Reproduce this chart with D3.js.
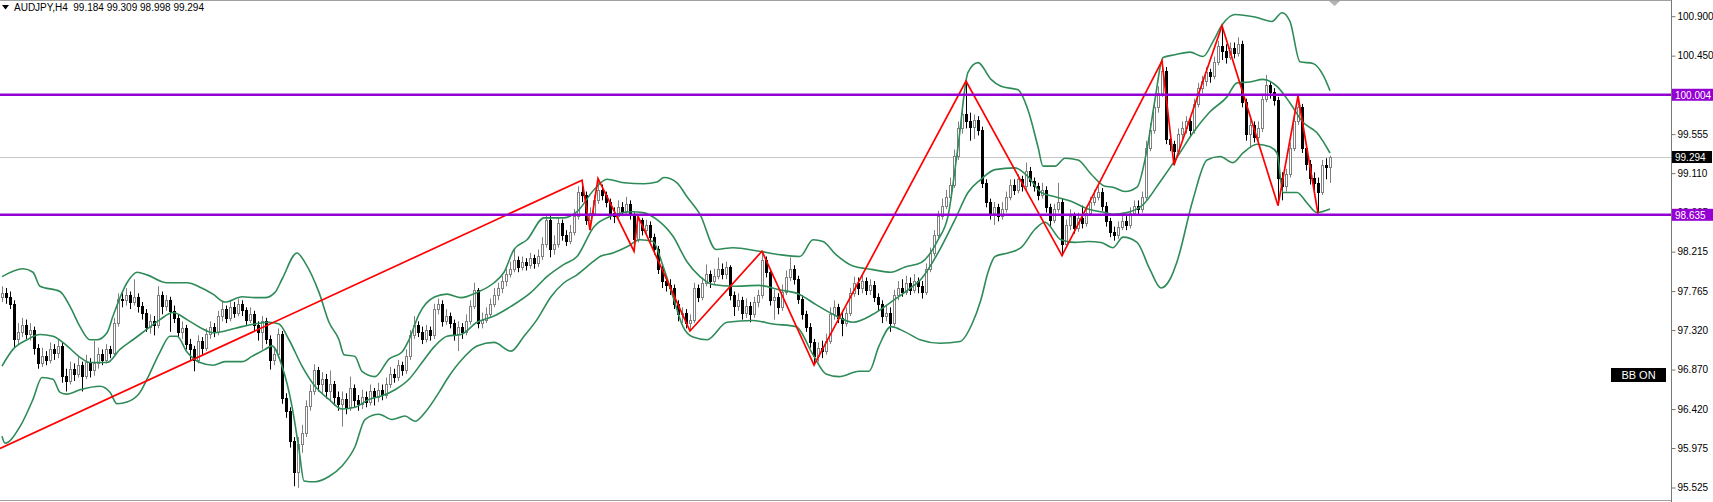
<!DOCTYPE html>
<html><head><meta charset="utf-8">
<script src="https://cdn.jsdelivr.net/npm/d3@7"></script>
<style>
html,body{margin:0;padding:0;background:#fff;overflow:hidden;}
svg{display:block;font-family:"Liberation Sans",Arial,sans-serif;}
</style></head><body>
<svg id="c" width="1713" height="502"></svg>
<script>
// ---------------- DATA (AUDJPY, H4) ----------------
const symbolTitle = "AUDJPY,H4  99.184 99.309 98.998 99.294";
const opens = [
97.70,97.74,97.70,97.62,97.22,97.30,97.38,97.28,97.32,97.12,
96.95,97.02,96.98,97.10,97.06,97.14,96.80,96.74,96.88,96.82,
96.92,96.80,96.96,96.86,96.94,97.05,96.98,97.10,97.06,97.40,
97.68,97.66,97.72,97.64,97.70,97.60,97.52,97.36,97.42,97.38,
97.72,97.60,97.66,97.54,97.46,97.30,97.34,97.16,97.10,96.98,
97.20,97.12,97.28,97.36,97.30,97.48,97.56,97.46,97.58,97.52,
97.62,97.55,97.44,97.50,97.38,97.30,97.42,97.22,96.98,97.05,
97.28,96.55,96.40,96.06,95.70,96.02,96.15,96.45,96.62,96.86,
96.70,96.76,96.62,96.70,96.56,96.48,96.54,96.44,96.66,96.52,
96.48,96.56,96.50,96.62,96.56,96.64,96.58,96.70,96.82,96.78,
96.92,96.86,97.02,97.26,97.38,97.30,97.22,97.32,97.26,97.56,
97.62,97.42,97.48,97.40,97.28,97.36,97.30,97.42,97.60,97.78,
97.40,97.44,97.50,97.62,97.72,97.80,97.88,97.96,98.02,98.12,
98.04,98.10,98.06,98.14,98.08,98.16,98.30,98.58,98.24,98.30,
98.54,98.40,98.34,98.44,98.62,98.90,98.86,98.58,98.66,98.80,
98.92,98.86,98.78,98.66,98.62,98.72,98.68,98.76,98.64,98.36,
98.58,98.46,98.52,98.38,98.24,98.02,97.88,97.84,97.80,97.62,
97.50,97.52,97.40,97.44,97.80,97.70,97.86,97.96,97.88,97.94,
98.02,97.96,98.04,97.72,97.60,97.66,97.52,97.60,97.50,97.64,
97.72,98.12,97.98,97.66,97.70,97.58,97.76,97.92,98.02,97.90,
97.68,97.50,97.36,97.18,97.02,97.12,97.08,97.20,97.50,97.58,
97.46,97.40,97.52,97.74,97.86,97.80,97.88,97.78,97.84,97.70,
97.62,97.48,97.52,97.40,97.72,97.80,97.76,97.86,97.78,97.88,
97.82,97.76,98.02,98.20,98.40,98.62,98.74,98.84,98.98,99.30,
99.62,99.78,99.70,99.64,99.72,99.60,99.00,98.78,98.66,98.72,
98.62,98.70,98.84,98.98,98.92,99.04,98.96,99.14,99.02,98.96,
98.86,98.92,98.72,98.58,98.70,98.78,98.30,98.52,98.62,98.48,
98.60,98.54,98.66,98.78,98.84,98.90,98.74,98.56,98.44,98.40,
98.50,98.56,98.52,98.66,98.74,98.70,98.84,99.40,99.60,99.86,
100.02,100.28,99.50,99.44,99.36,99.56,99.62,99.70,99.60,99.90,
100.08,100.16,100.26,100.22,100.38,100.56,100.50,100.44,100.54,100.48,
100.58,99.92,99.56,99.66,99.52,99.62,99.96,100.12,100.04,99.94,
99.06,98.96,99.10,99.40,99.70,99.86,99.40,99.22,99.06,99.00,
98.90,99.20,99.184];
const highs = [
97.82,97.80,97.76,97.66,97.40,97.46,97.44,97.40,97.36,97.16,
97.12,97.08,97.18,97.16,97.22,97.18,96.88,96.96,96.94,97.02,
96.96,97.04,97.00,97.20,97.12,97.10,97.16,97.14,97.46,97.74,
97.76,97.80,97.76,97.90,97.74,97.64,97.56,97.50,97.48,97.82,
97.76,97.72,97.70,97.60,97.50,97.42,97.38,97.22,97.14,97.26,
97.24,97.34,97.42,97.40,97.54,97.64,97.60,97.66,97.64,97.68,
97.66,97.58,97.58,97.54,97.42,97.48,97.46,97.26,97.12,97.34,
97.31,96.60,96.44,96.10,96.10,96.24,96.52,96.70,96.93,96.90,
96.84,96.82,96.86,96.74,96.62,96.62,96.60,96.79,96.70,96.58,
96.64,96.62,96.70,96.66,96.72,96.70,96.78,96.90,96.88,96.98,
96.96,97.10,97.32,97.48,97.42,97.36,97.38,97.36,97.62,97.68,
97.66,97.56,97.52,97.44,97.42,97.40,97.50,97.66,97.86,97.80,
97.52,97.58,97.68,97.80,97.86,97.94,98.02,98.10,98.24,98.16,
98.16,98.14,98.20,98.18,98.24,98.38,98.64,98.62,98.40,98.60,
98.58,98.46,98.52,98.70,98.96,99.03,98.90,98.72,98.86,99.05,
98.98,98.90,98.82,98.72,98.80,98.78,98.84,98.80,98.66,98.62,
98.60,98.58,98.56,98.42,98.28,98.06,97.94,97.90,97.84,97.66,
97.58,97.56,97.50,97.86,97.84,97.92,98.07,98.00,98.02,98.15,
98.08,98.10,98.06,97.76,97.74,97.70,97.68,97.64,97.70,97.78,
98.22,98.16,98.00,97.78,97.74,97.84,98.00,98.15,98.06,97.94,
97.72,97.54,97.40,97.22,97.18,97.20,97.28,97.58,97.66,97.62,
97.52,97.58,97.80,97.93,97.92,97.95,97.92,97.90,97.88,97.74,
97.66,97.60,97.58,97.78,97.88,97.90,97.94,97.92,97.96,97.92,
97.88,98.08,98.26,98.46,98.68,98.82,98.92,99.06,99.38,99.70,
99.86,100.16,99.80,99.78,99.76,99.64,99.04,98.82,98.78,98.76,
98.78,98.90,99.04,99.04,99.10,99.08,99.23,99.18,99.06,99.00,
99.00,98.96,98.76,98.76,99.00,98.82,98.58,98.70,98.66,98.66,
98.74,98.72,98.84,98.92,98.96,98.94,98.78,98.60,98.50,98.56,
98.66,98.62,98.72,98.80,98.80,98.90,99.48,99.68,99.94,100.10,
100.39,100.32,99.56,99.48,99.62,99.70,99.76,99.74,99.96,100.14,
100.22,100.32,100.30,100.44,100.62,100.79,100.58,100.60,100.60,100.66,
100.62,99.96,99.74,99.70,99.70,100.02,100.23,100.16,100.08,99.98,
99.12,99.16,99.46,99.78,99.99,99.90,99.44,99.26,99.12,99.06,
99.26,99.28,99.309];
const lows = [
97.64,97.62,97.56,97.12,97.16,97.24,97.22,97.20,97.04,96.88,
96.90,96.92,96.94,96.98,97.00,96.72,96.62,96.70,96.74,96.78,
96.62,96.76,96.78,96.80,96.88,96.92,96.94,97.00,97.02,97.36,
97.58,97.60,97.56,97.60,97.52,97.44,97.30,97.28,97.26,97.34,
97.50,97.54,97.30,97.40,97.24,97.22,97.10,96.98,96.85,96.94,
97.04,97.08,97.22,97.24,97.26,97.42,97.40,97.42,97.46,97.48,
97.48,97.38,97.40,97.30,97.20,97.10,97.16,96.87,96.92,97.00,
96.48,96.32,95.98,95.54,95.52,95.92,96.10,96.40,96.58,96.62,
96.60,96.54,96.50,96.46,96.40,96.22,96.36,96.40,96.44,96.40,
96.42,96.44,96.46,96.46,96.50,96.52,96.54,96.66,96.72,96.74,
96.80,96.82,96.98,97.22,97.24,97.16,97.18,97.20,97.22,97.50,
97.36,97.38,97.34,97.20,97.08,97.22,97.26,97.38,97.56,97.34,
97.34,97.40,97.46,97.58,97.66,97.74,97.82,97.92,97.98,97.98,
98.00,98.00,98.02,98.02,98.04,98.12,98.26,98.15,98.18,98.26,
98.34,98.28,98.30,98.40,98.58,98.78,98.52,98.46,98.62,98.76,
98.80,98.72,98.58,98.54,98.58,98.62,98.64,98.58,98.22,98.32,
98.40,98.40,98.32,98.18,97.96,97.80,97.76,97.72,97.56,97.42,
97.40,97.34,97.31,97.40,97.64,97.66,97.82,97.80,97.84,97.90,
97.90,97.90,97.66,97.48,97.54,97.44,97.46,97.41,97.46,97.58,
97.68,97.92,97.60,97.44,97.50,97.54,97.72,97.88,97.84,97.62,
97.44,97.30,97.12,96.92,96.96,97.00,97.04,97.16,97.44,97.40,
97.25,97.36,97.48,97.70,97.72,97.74,97.72,97.72,97.64,97.54,
97.40,97.42,97.30,97.36,97.66,97.70,97.72,97.72,97.74,97.74,
97.68,97.72,97.98,98.16,98.36,98.58,98.70,98.78,98.94,99.26,
99.56,99.62,99.48,99.50,99.54,98.94,98.72,98.58,98.52,98.56,
98.58,98.66,98.80,98.86,98.88,98.90,98.92,98.96,98.90,98.80,
98.82,98.66,98.50,98.54,98.66,98.17,98.26,98.46,98.42,98.44,
98.48,98.50,98.62,98.74,98.80,98.68,98.50,98.38,98.34,98.36,
98.46,98.46,98.48,98.62,98.64,98.66,98.80,99.36,99.56,99.80,
99.98,99.44,99.36,99.20,99.32,99.50,99.56,99.52,99.56,99.86,
100.02,100.10,100.14,100.18,100.34,100.40,100.36,100.40,100.42,100.44,
99.86,99.48,99.40,99.46,99.48,99.58,99.92,99.96,99.88,98.74,
98.80,98.90,99.06,99.36,99.66,99.34,99.14,98.98,98.88,98.65,
98.86,99.04,98.998];
const closes = [
97.74,97.70,97.62,97.22,97.30,97.38,97.28,97.32,97.12,96.95,
97.02,96.98,97.10,97.06,97.14,96.80,96.74,96.88,96.82,96.92,
96.80,96.96,96.86,96.94,97.05,96.98,97.10,97.06,97.40,97.68,
97.66,97.72,97.64,97.70,97.60,97.52,97.36,97.42,97.38,97.72,
97.60,97.66,97.54,97.46,97.30,97.34,97.16,97.10,96.98,97.20,
97.12,97.28,97.36,97.30,97.48,97.56,97.46,97.58,97.52,97.62,
97.55,97.44,97.50,97.38,97.30,97.42,97.22,96.98,97.05,97.28,
96.55,96.40,96.06,95.70,96.02,96.15,96.45,96.62,96.86,96.70,
96.76,96.62,96.70,96.56,96.48,96.54,96.44,96.66,96.52,96.48,
96.56,96.50,96.62,96.56,96.64,96.58,96.70,96.82,96.78,96.92,
96.86,97.02,97.26,97.38,97.30,97.22,97.32,97.26,97.56,97.62,
97.42,97.48,97.40,97.28,97.36,97.30,97.42,97.60,97.78,97.40,
97.44,97.50,97.62,97.72,97.80,97.88,97.96,98.02,98.12,98.04,
98.10,98.06,98.14,98.08,98.16,98.30,98.58,98.24,98.30,98.54,
98.40,98.34,98.44,98.62,98.90,98.86,98.58,98.66,98.80,98.92,
98.86,98.78,98.66,98.62,98.72,98.68,98.76,98.64,98.36,98.58,
98.46,98.52,98.38,98.24,98.02,97.88,97.84,97.80,97.62,97.50,
97.52,97.40,97.44,97.80,97.70,97.86,97.96,97.88,97.94,98.02,
97.96,98.04,97.72,97.60,97.66,97.52,97.60,97.50,97.64,97.72,
98.12,97.98,97.66,97.70,97.58,97.76,97.92,98.02,97.90,97.68,
97.50,97.36,97.18,97.02,97.12,97.08,97.20,97.50,97.58,97.46,
97.40,97.52,97.74,97.86,97.80,97.88,97.78,97.84,97.70,97.62,
97.48,97.52,97.40,97.72,97.80,97.76,97.86,97.78,97.88,97.82,
97.76,98.02,98.20,98.40,98.62,98.74,98.84,98.98,99.30,99.62,
99.78,99.70,99.64,99.72,99.60,99.00,98.78,98.66,98.72,98.62,
98.70,98.84,98.98,98.92,99.04,98.96,99.14,99.02,98.96,98.86,
98.92,98.72,98.58,98.70,98.78,98.30,98.52,98.62,98.48,98.60,
98.54,98.66,98.78,98.84,98.90,98.74,98.56,98.44,98.40,98.50,
98.56,98.52,98.66,98.74,98.70,98.84,99.40,99.60,99.86,100.02,
100.28,99.50,99.44,99.36,99.56,99.62,99.70,99.60,99.90,100.08,
100.16,100.26,100.22,100.38,100.56,100.50,100.44,100.54,100.48,100.58,
99.92,99.56,99.66,99.52,99.62,99.96,100.12,100.04,99.94,99.06,
98.96,99.10,99.40,99.70,99.86,99.40,99.22,99.06,99.00,98.90,
99.20,99.18,99.294];

// Bollinger Bands: [bar index, price]
const bbUpper = [[0,97.93],[5.25,98.02],[7.75,97.98],[9.5,97.82],[14.5,97.76],[17,97.59],[19.5,97.36],[22,97.21],[23.75,97.21],[26.25,97.29],[27.75,97.48],[31.25,97.86],[33.75,97.98],[36.25,97.95],[41.25,97.86],[46.25,97.86],[49.5,97.81],[52.75,97.73],[55.75,97.64],[60,97.70],[63.25,97.69],[65.75,97.69],[68.25,97.75],[70,97.90],[73.75,98.20],[75.75,98.09],[79.25,97.75],[81.75,97.41],[84.25,97.21],[85.5,97.04],[88.25,97.02],[90,96.85],[93.25,96.79],[96.75,96.99],[100,97.07],[101.75,97.21],[104.25,97.50],[108.25,97.70],[111.25,97.73],[114.75,97.69],[118.75,97.75],[123,97.86],[125.5,97.98],[128,98.24],[131.25,98.35],[135.5,98.60],[140.5,98.60],[143.75,98.67],[148,98.92],[151.25,99.04],[155.5,99.00],[160.5,98.99],[163.75,99.01],[165.5,99.06],[168.75,99.00],[171.25,98.84],[174.5,98.64],[178.5,98.24],[182.75,98.26],[189.25,98.22],[194.5,98.18],[199.5,98.16],[202.75,98.35],[205.25,98.33],[208.5,98.18],[212.75,98.05],[217.75,98.01],[222.25,97.98],[225.75,98.04],[229.75,98.09],[234,98.35],[236.5,98.62],[239,99.41],[241.5,100.26],[244,100.37],[247.25,100.18],[249.75,100.10],[254,100.06],[256.5,99.83],[259,99.41],[260.25,99.19],[263.25,99.19],[265.75,99.28],[269,99.26],[272.25,99.10],[275.75,98.96],[277.75,98.95],[280.75,98.90],[283.75,98.95],[286.25,99.38],[288.25,99.95],[290.25,100.43],[293.25,100.46],[297,100.49],[300.25,100.44],[302.75,100.61],[305,100.80],[308.25,100.92],[313.25,100.89],[317.5,100.84],[320,100.94],[322,100.84],[324.5,100.38],[327.75,100.36],[330.25,100.23],[332,100.05]];
const bbMiddle = [[0,96.91],[2.75,97.10],[6.25,97.21],[9.5,97.27],[12.75,97.25],[16.25,97.14],[19.5,97.01],[22,96.95],[26.25,96.95],[29.5,97.10],[32.75,97.21],[36.25,97.33],[39.5,97.44],[42.75,97.52],[46.25,97.44],[49.5,97.35],[52.75,97.29],[55.75,97.31],[60,97.36],[63.25,97.39],[66.75,97.41],[69.25,97.39],[71.75,97.21],[75,96.91],[78.25,96.68],[81.75,96.53],[85,96.42],[88.25,96.44],[91.75,96.53],[95,96.57],[98.25,96.64],[101.75,96.76],[105,96.95],[108.25,97.14],[111.25,97.25],[114.75,97.27],[118.75,97.41],[123,97.48],[127.25,97.59],[132.25,97.75],[136.25,97.93],[140.5,98.07],[143.75,98.16],[148,98.50],[152.25,98.62],[157.75,98.67],[160.25,98.66],[163.75,98.58],[167.75,98.39],[171.25,98.10],[174.5,97.93],[177.75,97.84],[182.75,97.82],[189.25,97.83],[194.25,97.78],[199.25,97.73],[203.5,97.61],[207.75,97.50],[212.75,97.41],[217.75,97.50],[222.25,97.64],[226.5,97.78],[229.75,97.90],[234,98.20],[238.25,98.58],[241.5,98.89],[244.75,99.04],[248.25,99.15],[253.25,99.17],[256.5,99.07],[259.75,98.89],[263.25,98.84],[267.25,98.79],[271.5,98.70],[275.75,98.66],[277.75,98.64],[281.25,98.66],[285.25,98.75],[289.5,99.01],[293.75,99.29],[297.75,99.57],[302,99.81],[306.25,99.98],[308.75,100.14],[312,100.15],[315.25,100.18],[318.75,100.10],[322,99.91],[325.25,99.69],[328.75,99.57],[332,99.34]];
const bbLower = [[0,96.11],[0.75,96.03],[4.5,96.22],[7.75,96.53],[10,96.78],[12.75,96.76],[14.5,96.61],[16.25,96.59],[19.5,96.64],[24.5,96.68],[27,96.61],[28.75,96.48],[31.25,96.50],[34.5,96.61],[36.25,96.76],[39.5,97.07],[42,97.25],[43.75,97.25],[46.25,97.07],[49.5,96.95],[52.75,96.92],[55.75,96.96],[60,96.96],[62.5,97.02],[65.75,97.10],[67.5,97.14],[70,96.91],[72.5,96.45],[74.25,95.96],[75.5,95.60],[78.25,95.59],[81.75,95.65],[85,95.77],[88.25,95.99],[90.75,96.30],[94.25,96.36],[97.5,96.30],[100.75,96.34],[103.25,96.28],[105.75,96.38],[109.25,96.61],[111.25,96.76],[115.5,97.01],[118.75,97.14],[123,97.18],[127.25,97.08],[130.5,97.25],[133.75,97.44],[137.25,97.70],[140.5,97.86],[143.75,97.95],[147.75,98.10],[149.5,98.16],[152.75,98.20],[156.25,98.27],[159.5,98.35],[162.75,98.33],[165.25,98.05],[167.75,97.70],[170.25,97.36],[172.75,97.24],[176.25,97.21],[181.25,97.41],[187.75,97.43],[192.75,97.39],[198.5,97.36],[202.75,97.04],[206,96.82],[209.25,96.79],[214.25,96.85],[216.75,96.85],[219.25,97.14],[222.25,97.36],[225.75,97.30],[229.5,97.21],[234.5,97.17],[239.5,97.19],[242.5,97.39],[244.75,97.67],[246.5,97.98],[248.25,98.16],[251.5,98.20],[254.75,98.26],[258.25,98.47],[260.75,98.55],[264.75,98.35],[268.25,98.32],[271.5,98.33],[274.75,98.32],[277.75,98.26],[280.25,98.38],[283.75,98.32],[287,98.01],[289.75,97.80],[292,97.90],[293.75,98.10],[297.75,98.81],[301.25,99.26],[304.5,99.30],[307.75,99.23],[310.25,99.34],[313.75,99.44],[317,99.41],[318.75,99.34],[320.25,98.89],[323.75,98.89],[326.25,98.77],[328.75,98.66],[332,98.70]];

// ZigZag pivots: [bar index, price]
const zigzag = [[-0.5,95.97],[145,99.03],[147,98.46],[149,99.05],[158,98.22],[159,98.62],[172,97.31],[190,98.22],[203,96.92],[241,100.16],[265,98.17],[290,100.39],[293,99.20],[305,100.79],[319,98.74],[324,99.99],[329,98.65]];

// Horizontal levels and price axis
const levels = [100.004, 98.635];
const levelLabels = ["100.004", "98.635"];
const lastPrice = 99.294;
const lastPriceLabel = "99.294";
const tickValues = [100.900,100.450,100.005,99.555,99.110,98.665,98.215,97.765,97.320,96.870,96.420,95.975,95.525];
const tickLabels = ["100.900","100.450","100.005","99.555","99.110","98.665","98.215","97.765","97.320","96.870","96.420","95.975","95.525"];
const badgeText = "BB ON";

// ---------------- DRAW ----------------
const W = 1713, H = 502;
const plotRight = 1671;
const plotBottom = 500;
const svg = d3.select("#c");

const x = d3.scaleLinear().domain([0, closes.length - 1]).range([2, 2 + 4 * (closes.length - 1)]);
const y = d3.scaleLinear().domain([95.525, 100.900]).range([487.5, 16.2]);

svg.append("defs").append("clipPath").attr("id", "plot")
  .append("rect").attr("x", 0).attr("y", 0).attr("width", plotRight).attr("height", plotBottom);

const plot = svg.append("g").attr("clip-path", "url(#plot)");

// current price line (behind candles)
plot.append("line")
  .attr("x1", 0).attr("x2", plotRight)
  .attr("y1", Math.round(y(lastPrice)) + 0.5).attr("y2", Math.round(y(lastPrice)) + 0.5)
  .attr("stroke", "#c8c8c8").attr("stroke-width", 1);

// candles
const idx = d3.range(closes.length);
const isUp = i => closes[i] >= opens[i];
const cx = i => Math.round(x(i));
const gC = plot.append("g");
gC.selectAll("line.wick").data(idx).join("line").attr("class", "wick")
  .attr("x1", i => cx(i) + 0.5).attr("x2", i => cx(i) + 0.5)
  .attr("y1", i => y(highs[i])).attr("y2", i => y(lows[i]))
  .attr("stroke", i => isUp(i) ? "#808080" : "#000").attr("stroke-width", 1);
gC.selectAll("rect.body").data(idx).join("rect").attr("class", "body")
  .attr("x", i => cx(i) - 0.5).attr("width", 2)
  .attr("y", i => Math.round(y(Math.max(opens[i], closes[i]))) + 0.5)
  .attr("height", i => Math.max(0, Math.round(y(Math.min(opens[i], closes[i]))) - Math.round(y(Math.max(opens[i], closes[i])))))
  .attr("fill", i => isUp(i) ? "#ffffff" : "#000000")
  .attr("stroke", i => isUp(i) ? "#808080" : "#000000").attr("stroke-width", 1);

// Bollinger bands
const bandLine = d3.line().x(d => x(d[0])).y(d => y(d[1])).curve(d3.curveMonotoneX);
[bbUpper, bbMiddle, bbLower].forEach(b => {
  plot.append("path").attr("d", bandLine(b)).attr("fill", "none")
    .attr("stroke", "#2e8b57").attr("stroke-width", 1.6).attr("stroke-linejoin", "round");
});

// ZigZag
plot.append("path").attr("d", d3.line().x(d => x(d[0])).y(d => y(d[1]))(zigzag))
  .attr("fill", "none").attr("stroke", "#ff0000").attr("stroke-width", 1.7);

// horizontal levels
levels.forEach(v => {
  plot.append("line").attr("x1", 0).attr("x2", plotRight)
    .attr("y1", y(v)).attr("y2", y(v))
    .attr("stroke", "#9400d3").attr("stroke-width", 2.6);
});

// frame
svg.append("line").attr("x1", 0).attr("x2", plotRight).attr("y1", 0.5).attr("y2", 0.5).attr("stroke", "#a0a0a0");
svg.append("line").attr("x1", 0).attr("x2", plotRight).attr("y1", plotBottom + 0.5).attr("y2", plotBottom + 0.5).attr("stroke", "#a0a0a0");

// chart shift marker
svg.append("path").attr("d", "M1329,1 L1340,1 L1334.5,6 Z").attr("fill", "#b4b4b4");

// price axis
const axis = d3.axisRight(y).tickValues(tickValues).tickSize(4).tickPadding(2)
  .tickFormat((d, i) => tickLabels[i]);
const gA = svg.append("g").attr("transform", `translate(${plotRight + 0.5},0)`).call(axis);
gA.select(".domain").attr("stroke", "#777").attr("d", `M0,0V${H}`);
gA.selectAll(".tick line").attr("stroke", "#777");
gA.selectAll(".tick text").attr("fill", "#000").attr("font-size", 10)
  .attr("font-family", "'Liberation Sans',Arial,sans-serif");

// level labels
levels.forEach((v, k) => {
  const yy = y(v);
  svg.append("rect").attr("x", plotRight + 1).attr("y", yy - 6).attr("width", W - plotRight - 1).attr("height", 12).attr("fill", "#9400d3");
  svg.append("text").attr("x", plotRight + 4).attr("y", yy + 4).attr("fill", "#fff")
    .attr("font-size", 10).text(levelLabels[k]);
});
// last price label
{
  const yy = y(lastPrice);
  svg.append("rect").attr("x", plotRight + 1).attr("y", yy - 6).attr("width", 40).attr("height", 12).attr("fill", "#000");
  svg.append("text").attr("x", plotRight + 4).attr("y", yy + 4).attr("fill", "#fff")
    .attr("font-size", 10).text(lastPriceLabel);
}

// BB ON badge
svg.append("rect").attr("x", 1611).attr("y", 368).attr("width", 55).attr("height", 14).attr("fill", "#000");
svg.append("text").attr("x", 1638.5).attr("y", 379).attr("text-anchor", "middle").attr("fill", "#fff")
  .attr("font-size", 11).text(badgeText);

// title
svg.append("path").attr("d", "M2,5 L9,5 L5.5,9.5 Z").attr("fill", "#000");
svg.append("text").attr("x", 14).attr("y", 11).attr("fill", "#000").attr("font-size", 10)
  .attr("xml:space", "preserve").style("white-space", "pre").text(symbolTitle);
</script>
</body></html>
